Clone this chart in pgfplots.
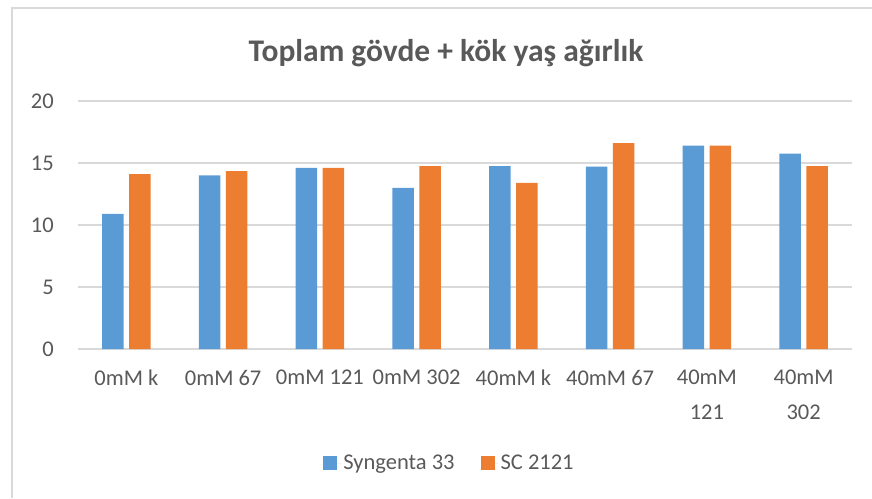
\documentclass[border=0pt]{standalone}
\usepackage{pgfplots}
\pgfplotsset{compat=1.18}
\usepackage{fontspec}
\setmainfont{Carlito}
\definecolor{sblue}{HTML}{5B9BD5}
\definecolor{sorange}{HTML}{ED7D31}
\definecolor{textgray}{HTML}{595959}
\definecolor{gridgray}{HTML}{D9D9D9}
\begin{document}
\begin{tikzpicture}
\path[use as bounding box] (0,0) rectangle (872pt,498pt);
% chart frame
\draw[gridgray, line width=1.5pt] (12pt,0pt) -- (12pt,490pt) -- (872pt,490pt);
\node[font=\fontsize{31.5}{36}\selectfont\bfseries, text=textgray] at (446pt,445pt) {Toplam gövde + kök yaş ağırlık};
\begin{axis}[
    at={(78pt,149pt)}, anchor=south west,
    scale only axis, width=774pt, height=248pt,
    ybar=5.3pt, bar width=21.7pt,
    xmin=-0.5, xmax=7.5, ymin=0, ymax=20,
    ytick={0,5,...,20},
    xtick=data,
    xticklabels={0mM k, 0mM 67, 0mM 121, 0mM 302, 40mM k, 40mM 67, {40mM\\121}, {40mM\\302}},
    axis line style={draw=none},
    major tick length=0pt,
    ymajorgrids, grid style={gridgray, line width=1.2pt},
    /pgf/number format/assume math mode=true,
    tick label style={font=\fontsize{22.5}{35}\selectfont, text=textgray},
    yticklabel style={inner sep=0pt, xshift=-24pt},
    xticklabel style={align=center, inner sep=0pt, yshift=-21pt},
    legend columns=2,
    legend style={at={(0.48,-0.46)}, anchor=center, draw=none, fill=none,
        font=\fontsize{22.5}{26}\selectfont, text=textgray,
        /tikz/every even column/.append style={column sep=24pt}},
    legend image code/.code={\fill[#1] (0pt,-7pt) rectangle (14pt,7pt); \path (14pt,0pt) -- (18pt,0pt);},
]
\addplot[fill=sblue, draw=none] coordinates {
    (0,10.9) (1,14.0) (2,14.6) (3,13.0) (4,14.75) (5,14.7) (6,16.4) (7,15.75)
};
\addplot[fill=sorange, draw=none] coordinates {
    (0,14.1) (1,14.35) (2,14.6) (3,14.75) (4,13.4) (5,16.6) (6,16.4) (7,14.75)
};
\legend{Syngenta 33, SC 2121}
\end{axis}
\end{tikzpicture}
\end{document}
